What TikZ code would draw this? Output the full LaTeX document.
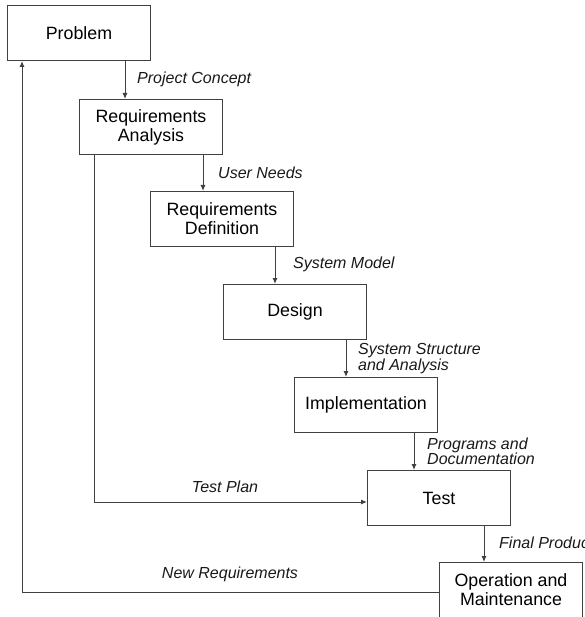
\documentclass[tikz,border=0pt]{standalone}
\usepackage{fontspec}
\setmainfont{Liberation Sans}
\usetikzlibrary{arrows.meta}
\begin{document}
\begin{tikzpicture}[x=1pt,y=-1pt,
  stage/.style={draw=black!75,line width=1pt,fill=white,minimum width=143pt,minimum height=55pt,
    inner sep=0pt,align=center,font=\fontsize{17.8}{19}\selectfont},
  flow/.style={draw=black!75,line width=1pt,-{Latex[length=6pt,width=5pt]}},
  lbl/.style={font=\fontsize{16}{15.5}\selectfont\itshape,inner sep=0pt,align=left,text=black!90}]
\useasboundingbox (0,0) rectangle (584,617);
\clip (0,0) rectangle (584,617);

% the seven stages of the life cycle
\node[stage] (prob) at (79,33)   {Problem};
\node[stage] (reqa) at (151,127) {Requirements\\Analysis};
\node[stage] (reqd) at (222,219) {Requirements\\Definition};
\node[stage] (des)  at (295,312) {Design};
\node[stage] (impl) at (366,405) {Implementation};
\node[stage] (test) at (439,498) {Test};
\node[stage] (op)   at (511,590) {Operation and\\Maintenance};

% downward hand-offs between stages
\draw[flow] (prob.south -| 125,0) -- (reqa.north -| 125,0);
\draw[flow] (reqa.south -| 203,0) -- (reqd.north -| 203,0);
\draw[flow] (reqd.south -| 275,0) -- (des.north -| 275,0);
\draw[flow] (des.south -| 346,0)  -- (impl.north -| 346,0);
\draw[flow] (impl.south -| 414,0) -- (test.north -| 414,0);
\draw[flow] (test.south -| 484,0) -- (op.north -| 484,0);

% test plan from analysis straight to test
\draw[flow] (reqa.south -| 94,0) |- (test.west |- 0,502);

% feedback of new requirements to the problem
\draw[flow] (op.west |- 0,592) -| (prob.south -| 22,0);

% flow labels
\node[lbl,anchor=west] (l1) at (137,79)   {Project Concept};
\node[lbl,anchor=west] (l2) at (218,173)  {User Needs};
\node[lbl,anchor=west] (l3) at (293,264)  {System Model};
\node[lbl,anchor=west] (l4) at (358,358.5){System Structure\\and Analysis};
\node[lbl,anchor=west] (l5) at (427,451.5){Programs and\\Documentation};
\node[lbl] (l6) at (225,487)              {Test Plan};
\node[lbl,anchor=west] (l7) at (499,543)  {Final Product};
\node[lbl] (l8) at (230,574)              {New Requirements};
\end{tikzpicture}
\end{document}
